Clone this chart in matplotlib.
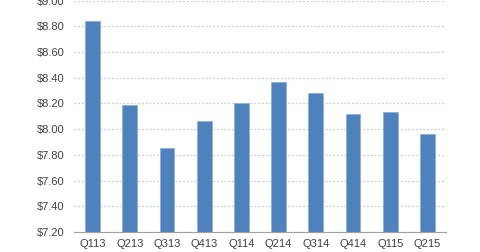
import matplotlib
matplotlib.use("Agg")
import matplotlib.pyplot as plt

plt.rcParams["font.family"] = ["Liberation Sans", "DejaVu Sans"]

categories = ["Q113", "Q213", "Q313", "Q413", "Q114", "Q214", "Q314", "Q414", "Q115", "Q215"]
values = [8.84, 8.19, 7.85, 8.06, 8.20, 8.37, 8.28, 8.12, 8.13, 7.96]
yticks = [7.20, 7.40, 7.60, 7.80, 8.00, 8.20, 8.40, 8.60, 8.80, 9.00]

fig = plt.figure(figsize=(4.8, 2.52), dpi=100)
ax = fig.add_axes([74/480, 20/252, 372/480, 231.5/252])
x = range(len(categories))
ax.bar(x, values, width=0.4, color="#4F81BD", edgecolor="#8FB0DA", linewidth=0.6, zorder=3)
ax.set_xlim(-0.5, len(categories) - 0.5)
ax.set_ylim(7.20, 9.00)
ax.set_yticks(yticks)
ax.set_yticklabels([f"${v:.2f}" for v in yticks])
ax.set_xticks(list(x))
ax.set_xticklabels(categories)
ax.yaxis.grid(True, color="#CFCFCF", linestyle=(0, (1.5, 1.5)), linewidth=0.9, zorder=0)
for s in ["top", "right", "left"]:
    ax.spines[s].set_visible(False)
ax.spines["bottom"].set_color("#A0A0A0")
ax.tick_params(axis="both", length=0, labelsize=8, labelcolor="#404040")
ax.tick_params(axis="y", pad=7)
ax.tick_params(axis="x", pad=5)
fig.savefig("out.png", dpi=100)
